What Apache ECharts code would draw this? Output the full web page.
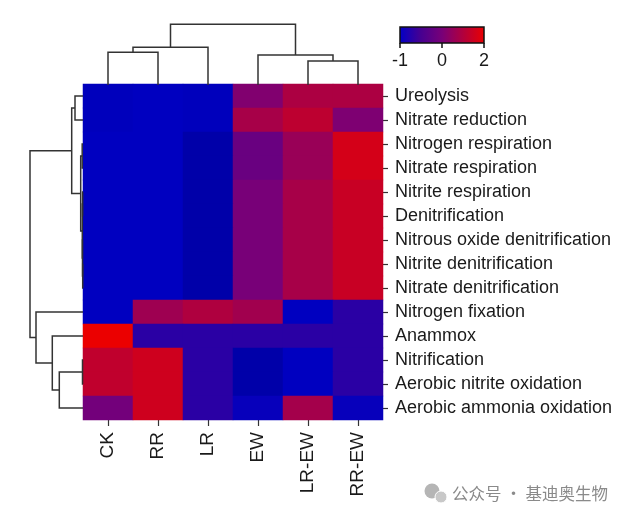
<!DOCTYPE html>
<html>
<head>
<meta charset="utf-8">
<script src="https://cdn.jsdelivr.net/npm/echarts@6/dist/echarts.min.js"></script>
<style>html,body{margin:0;padding:0;background:#fff;}#c{width:632px;height:520px;}</style>
</head>
<body>
<div id="c"></div>
<script>
const columns = ['CK', 'RR', 'LR', 'EW', 'LR-EW', 'RR-EW'];
const rows = ['Ureolysis', 'Nitrate reduction', 'Nitrogen respiration', 'Nitrate respiration',
  'Nitrite respiration', 'Denitrification', 'Nitrous oxide denitrification', 'Nitrite denitrification',
  'Nitrate denitrification', 'Nitrogen fixation', 'Anammox', 'Nitrification',
  'Aerobic nitrite oxidation', 'Aerobic ammonia oxidation'];
const ureolysis = [-1.05, -1.0, -1.05, 0.15, 0.9, 0.9];
const nitrateReduction = [-1.05, -1.0, -1.05, 0.8, 1.2, 0.1];
const nitrogenRespiration = [-1.0, -1.0, -1.3, -0.15, 0.55, 1.6];
const nitrateRespiration = [-1.0, -1.0, -1.3, -0.15, 0.55, 1.6];
const nitriteRespiration = [-1.0, -1.0, -1.3, 0.0, 0.8, 1.4];
const denitrification = [-1.0, -1.0, -1.3, 0.0, 0.8, 1.4];
const nitrousOxideDenit = [-1.0, -1.0, -1.3, 0.0, 0.8, 1.4];
const nitriteDenit = [-1.0, -1.0, -1.3, 0.0, 0.8, 1.4];
const nitrateDenit = [-1.0, -1.0, -1.3, 0.0, 0.8, 1.4];
const nitrogenFixation = [-1.0, 0.65, 0.95, 0.7, -1.0, -0.7];
const anammox = [2.0, -0.7, -0.7, -0.7, -0.7, -0.7];
const nitrification = [1.25, 1.5, -0.7, -1.3, -1.0, -0.7];
const aerobicNitriteOx = [1.25, 1.5, -0.7, -1.3, -1.0, -0.7];
const aerobicAmmoniaOx = [-0.05, 1.5, -0.7, -0.95, 0.75, -0.95];
const matrix = [ureolysis, nitrateReduction, nitrogenRespiration, nitrateRespiration,
  nitriteRespiration, denitrification, nitrousOxideDenit, nitriteDenit, nitrateDenit,
  nitrogenFixation, anammox, nitrification, aerobicNitriteOx, aerobicAmmoniaOx];

// linkage: [childA, childB, height]; leaves 0..n-1, merged nodes numbered n, n+1, ...
const colLinkage = [[0, 1, 32.7], [6, 2, 37.7], [4, 5, 24], [3, 8, 30], [7, 9, 60.7]];
const rowLinkage = [[0, 1, 8], [2, 3, 0.8], [4, 5, 0.4], [7, 8, 0.3], [6, 17, 0.5], [16, 18, 0.7],
  [15, 19, 2.3], [14, 20, 11.3], [11, 12, 0.5], [22, 13, 23.7], [10, 23, 30.7], [9, 24, 47], [21, 25, 53]];

const legendTicks = [-1, 0, 2];

const colorStops = ['#00009a', '#0000c0', '#460091', '#780078', '#96005a', '#b2003c', '#ce001e', '#eb0000'];

function toLinks(linkage, n) {
  const pos = [], h = [];
  for (let i = 0; i < n; i++) { pos[i] = i; h[i] = 0; }
  const out = [];
  linkage.forEach(function (l, k) {
    const a = l[0], b = l[1], d = l[2];
    out.push([pos[a], h[a], pos[b], h[b], d]);
    pos[n + k] = (pos[a] + pos[b]) / 2;
    h[n + k] = d;
  });
  return out;
}

const heatData = [];
matrix.forEach(function (r, yi) { r.forEach(function (v, xi) { heatData.push([xi, yi, v]); }); });

const font = "'Liberation Sans', Arial, sans-serif";
const lineStyle = { stroke: '#333', lineWidth: 1.5, fill: null };

const chart = echarts.init(document.getElementById('c'), null, { renderer: 'canvas' });
chart.setOption({
  backgroundColor: '#fff',
  animation: false,
  grid: [
    { left: 83, top: 84, width: 300, height: 336 },
    { left: 83, top: 24, width: 300, height: 61 },
    { left: 30, top: 84, width: 53, height: 336 }
  ],
  xAxis: [
    { gridIndex: 0, type: 'category', data: columns, position: 'bottom',
      axisLine: { show: false }, splitLine: { show: false },
      axisTick: { show: true, alignWithLabel: true, length: 6, lineStyle: { color: '#333', width: 1.2 } },
      axisLabel: { rotate: 90, margin: 12, fontSize: 19, color: '#1a1a1a', fontFamily: font } },
    { gridIndex: 1, type: 'value', min: -0.5, max: 5.5, show: false },
    { gridIndex: 2, type: 'value', min: 0, max: 53, inverse: true, show: false }
  ],
  yAxis: [
    { gridIndex: 0, type: 'category', data: rows, position: 'right', inverse: true,
      axisLine: { show: false }, splitLine: { show: false },
      axisTick: { show: true, alignWithLabel: true, length: 5, lineStyle: { color: '#333', width: 1.2 } },
      axisLabel: { margin: 12, fontSize: 18, color: '#1a1a1a', fontFamily: font } },
    { gridIndex: 1, type: 'value', min: 0, max: 61, show: false },
    { gridIndex: 2, type: 'value', min: -0.5, max: 13.5, inverse: true, show: false }
  ],
  visualMap: { show: false, type: 'continuous', min: -1.5, max: 2, dimension: 2, seriesIndex: 0,
    inRange: { color: colorStops } },
  series: [
    { type: 'heatmap', xAxisIndex: 0, yAxisIndex: 0, data: heatData,
      itemStyle: { borderWidth: 0 }, emphasis: { disabled: true } },
    { type: 'custom', xAxisIndex: 1, yAxisIndex: 1, data: toLinks(colLinkage, columns.length),
      silent: true, clip: false,
      renderItem: function (params, api) {
        const pts = [api.coord([api.value(0), api.value(1)]), api.coord([api.value(0), api.value(4)]),
          api.coord([api.value(2), api.value(4)]), api.coord([api.value(2), api.value(3)])];
        return { type: 'polyline', shape: { points: pts }, style: lineStyle };
      } },
    { type: 'custom', xAxisIndex: 2, yAxisIndex: 2, data: toLinks(rowLinkage, rows.length),
      silent: true, clip: false,
      renderItem: function (params, api) {
        const pts = [api.coord([api.value(1), api.value(0)]), api.coord([api.value(4), api.value(0)]),
          api.coord([api.value(4), api.value(2)]), api.coord([api.value(3), api.value(2)])];
        return { type: 'polyline', shape: { points: pts }, style: lineStyle };
      } }
  ],
  graphic: [
    { type: 'rect', shape: { x: 400, y: 27, width: 84, height: 16 }, z: 10,
      style: { stroke: '#111', lineWidth: 1.5,
        fill: new echarts.graphic.LinearGradient(0, 0, 1, 0, [
          { offset: 0, color: '#0000c8' }, { offset: 0.25, color: colorStops[2] },
          { offset: 0.5, color: colorStops[3] }, { offset: 0.625, color: colorStops[4] },
          { offset: 0.75, color: colorStops[5] }, { offset: 0.875, color: colorStops[6] },
          { offset: 1, color: colorStops[7] }]) } }
  ].concat(legendTicks.map(function (t, i) {
    const x = 400 + i * 42;
    return { type: 'group', z: 10, children: [
      { type: 'line', shape: { x1: x, y1: 43, x2: x, y2: 48 }, style: { stroke: '#111', lineWidth: 1.5 } },
      { type: 'text', x: x, y: 61, style: { text: String(t), font: '18px ' + font, fill: '#1a1a1a',
        textAlign: 'center', textVerticalAlign: 'middle' } }
    ] };
  })).concat([
    { type: 'circle', shape: { cx: 432, cy: 491, r: 7.5 }, style: { fill: '#b5b5b5' } },
    { type: 'circle', shape: { cx: 441, cy: 497, r: 6 }, style: { fill: '#c8c8c8', stroke: '#fff', lineWidth: 1 } },
    { type: 'text', x: 452, y: 494, style: { text: '公众号 · 基迪奥生物', font: "16.5px 'Noto Sans CJK SC'",
      fill: '#8a8a8a', textVerticalAlign: 'middle' } }
  ])
});
</script>
</body>
</html>
